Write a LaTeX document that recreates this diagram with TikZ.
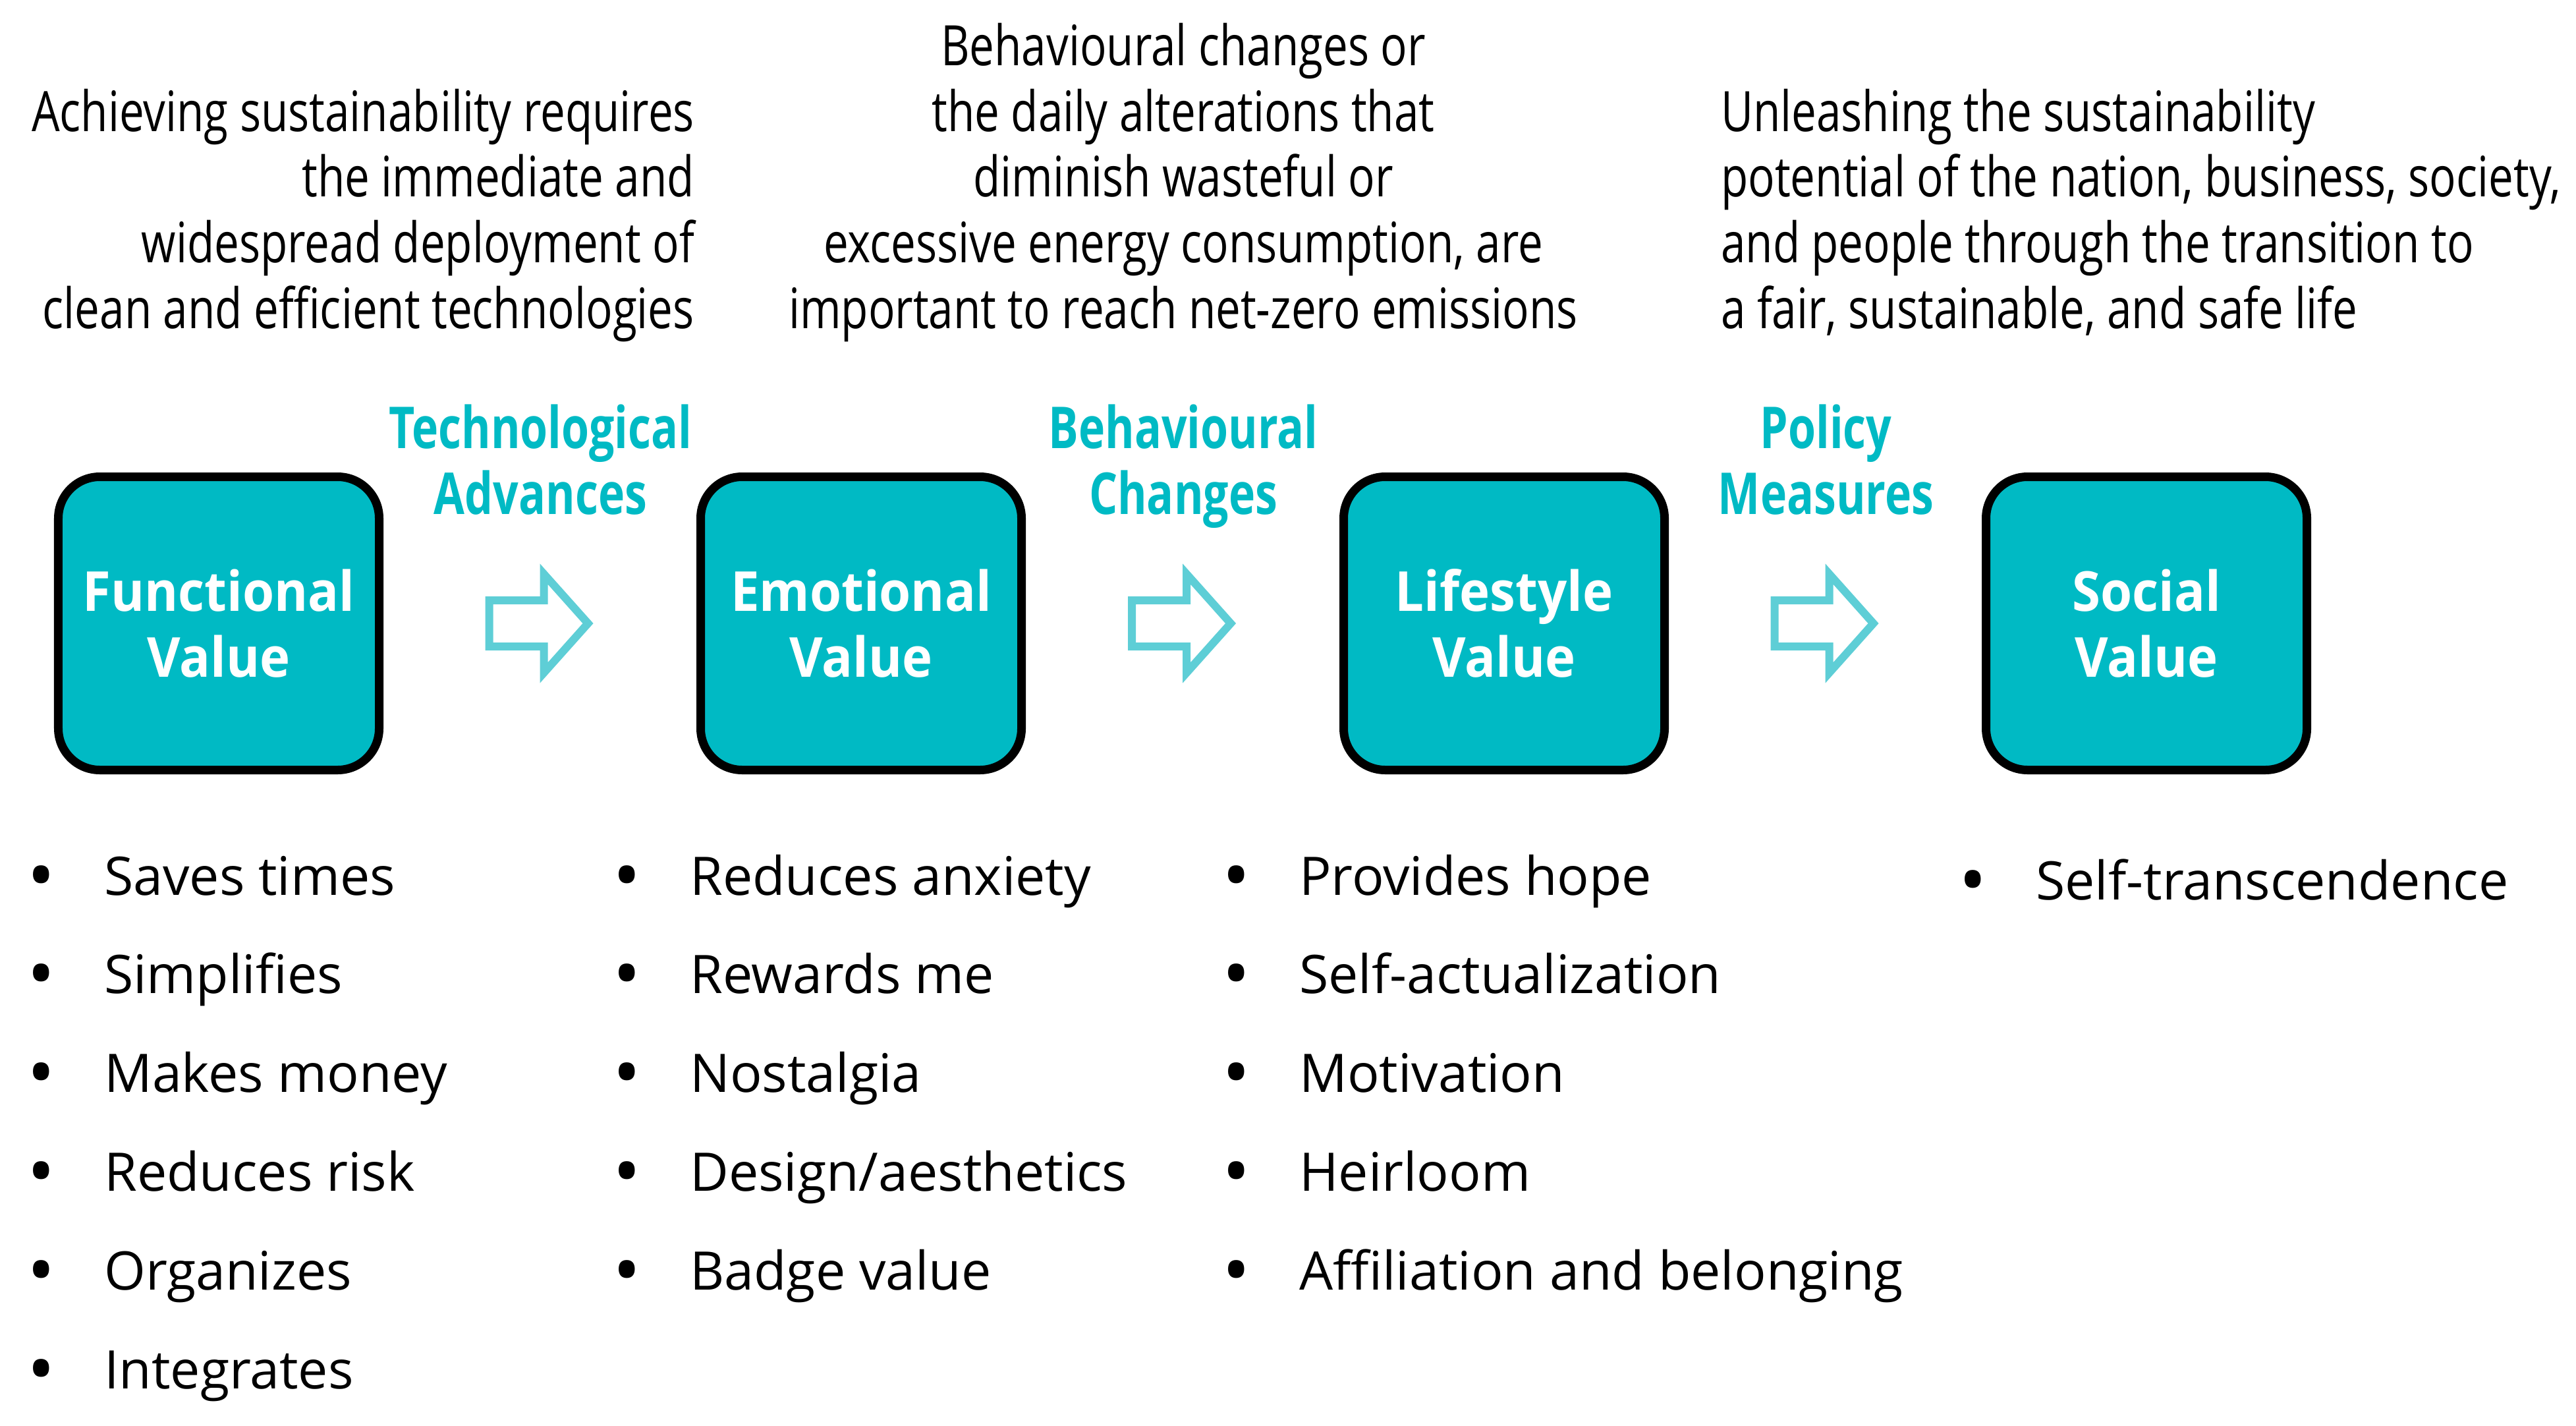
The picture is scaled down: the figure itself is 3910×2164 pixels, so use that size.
\documentclass[tikz,border=0pt]{standalone}
\usepackage{fontspec}
\usepackage{graphicx}
\setmainfont{Open Sans}
\newfontfamily\condfont[FakeStretch=0.795]{Open Sans}
\newfontfamily\labelfont[FakeStretch=0.775]{Open Sans}
\newfontfamily\boxfont[FakeStretch=0.93]{Open Sans}
\usetikzlibrary{calc}
\definecolor{tealc}{RGB}{0,186,196}
\definecolor{arrowc}{RGB}{94,206,214}
\newcommand\itembul{\makebox[117bp][l]{\raisebox{-10bp}{\scalebox{1.4}{•}}}}
\begin{document}
\begin{tikzpicture}[x=1bp,y=-1bp,
 valbox/.style={draw=black, fill=tealc, line width=13bp, rounded corners=63bp,
   minimum width=487bp, minimum height=445bp, inner sep=0pt, align=center,
   text=white, font=\boxfont\bfseries\fontsize{84}{100}\selectfont},
 steplabel/.style={align=center, text=tealc, inner sep=0pt,
   font=\labelfont\bfseries\fontsize{88}{100}\selectfont},
 desc/.style={inner sep=0pt, font=\condfont\fontsize{85}{100}\selectfont},
 item/.style={anchor=base west, inner sep=0pt, font=\fontsize{81}{100}\selectfont},
 hollowarrow/.pic={\draw[arrowc, line width=12bp, miter limit=10]
   (-77,-35) -- (6,-35) -- (6,-75) -- (73,0) -- (6,75) -- (6,35) -- (-77,35) -- cycle;}
]
\useasboundingbox (0,0) rectangle (3910,2164);

% value boxes
\node[valbox] (fv) at (332,946) {Functional\\Value};
\node[valbox] (ev) at (1307,946) {Emotional\\Value};
\node[valbox] (lv) at (2283,946) {Lifestyle\\Value};
\node[valbox] (sv) at (3258,946) {Social\\Value};

% hollow arrows between boxes
\coordinate (m1) at ($(fv.east)!0.5!(ev.west)$);
\coordinate (m2) at ($(ev.east)!0.5!(lv.west)$);
\coordinate (m3) at ($(lv.east)!0.5!(sv.west)$);
\pic at (m1) {hollowarrow};
\pic at (m2) {hollowarrow};
\pic at (m3) {hollowarrow};

% step labels (base = last line)
\node[steplabel, anchor=base] (t1) at ($(m1)+(1,-166)$) {Technological\\Advances};
\node[steplabel, anchor=base] (t2) at ($(m2)+(1,-166)$) {Behavioural\\Changes};
\node[steplabel, anchor=base] (t3) at ($(m3)+(1,-166)$) {Policy\\Measures};

% descriptions (base = last line)
\node[desc, align=right, anchor=base east] (d1) at (1054,498)
  {Achieving sustainability requires\\the immediate and\\widespread deployment of\\clean and efficient technologies};
\node[desc, align=center, anchor=base] (d2) at (1796,498)
  {Behavioural changes or\\the daily alterations that\\diminish wasteful or\\excessive energy consumption, are\\important to reach net-zero emissions};
\node[desc, align=left, anchor=base west] (d3) at (2612,498)
  {Unleashing the sustainability\\potential of the nation, business, society,\\and people through the transition to\\a fair, sustainable, and safe life};

% bullet lists
\foreach \t [count=\i] in {Saves times,Simplifies,Makes money,Reduces risk,Organizes,Integrates}
  \node[item] (fa\i) at (41,{1358+149.8*(\i-1)}) {\itembul\t};
\foreach \t [count=\i] in {Reduces anxiety,Rewards me,Nostalgia,Design/aesthetics,Badge value}
  \node[item] (ea\i) at (930,{1358+149.8*(\i-1)}) {\itembul\t};
\foreach \t [count=\i] in {Provides hope,Self-actualization,Motivation,Heirloom,Affiliation and belonging}
  \node[item] (la\i) at (1855,{1358+149.8*(\i-1)}) {\itembul\t};
\node[item] (sa1) at (2973,1365) {\itembul Self-transcendence};
\end{tikzpicture}
\end{document}
